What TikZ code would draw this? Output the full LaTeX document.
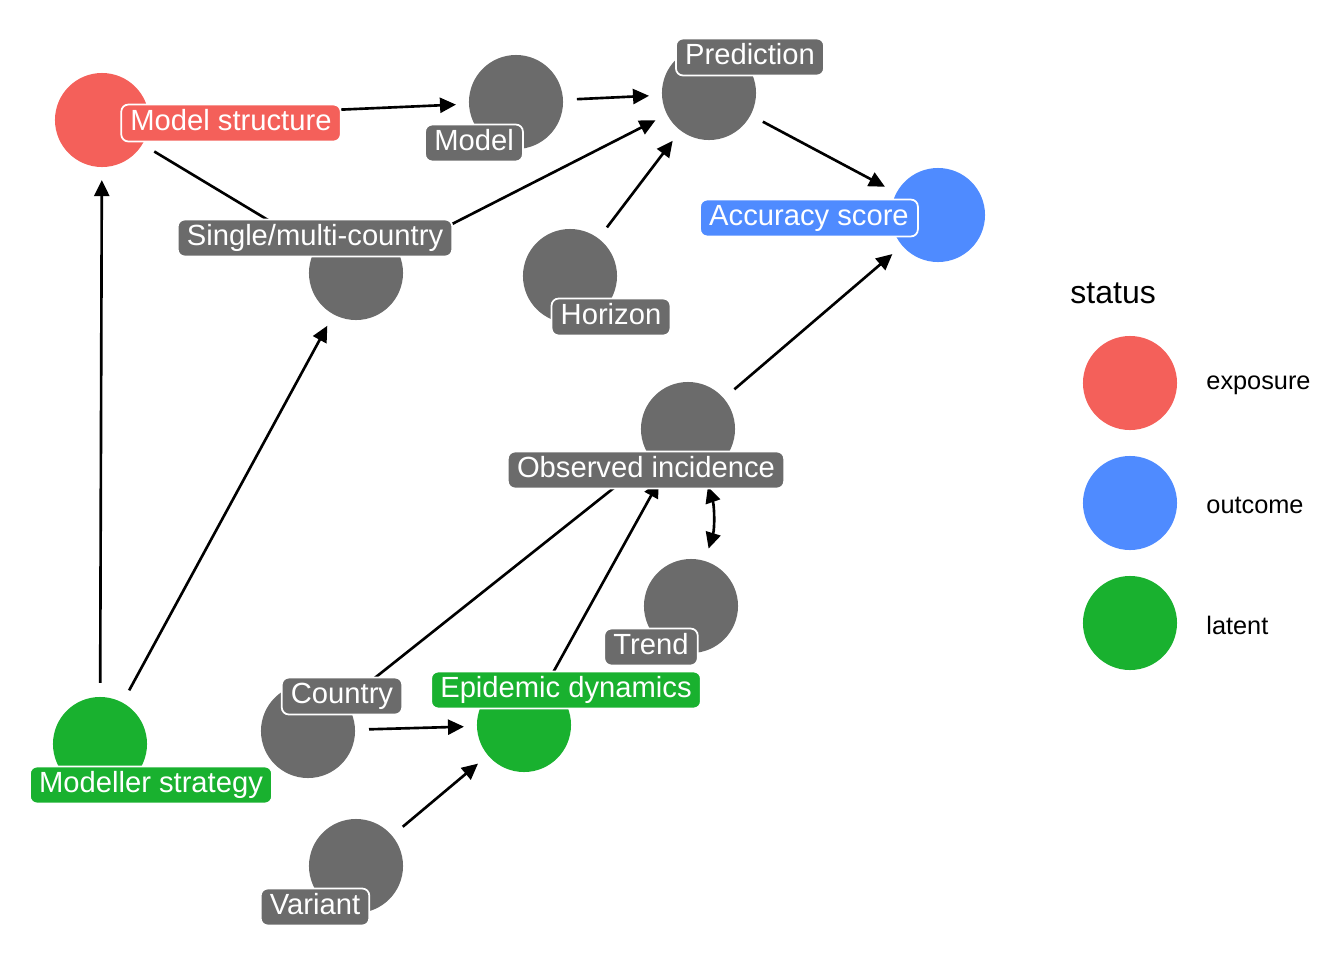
\documentclass[tikz,border=0pt]{standalone}
\usepackage{fontspec}
\setmainfont{Liberation Sans}
\usetikzlibrary{arrows.meta}
\definecolor{expo}{HTML}{F4605A}
\definecolor{outc}{HTML}{4F8BFF}
\definecolor{late}{HTML}{19B12F}
\definecolor{other}{HTML}{6B6B6B}
\tikzset{
  dagnode/.style={circle, fill=#1, minimum size=0.94cm, inner sep=0pt, outer sep=0pt},
  daglabel/.style={rounded corners=2pt, fill=#1, draw=white, line width=0.5pt,
    text=white, font=\fontsize{8.3}{10}\selectfont, text height=6pt, text depth=1.7pt,
    inner xsep=2.6pt, inner ysep=1.4pt},
  edge/.style={line width=0.75pt, -{Triangle[length=0.16cm,width=0.15cm]},
    shorten >=0.13cm, shorten <=0.14cm},
}
\begin{document}
\begin{tikzpicture}[x=0.01cm, y=-0.01cm]
    \useasboundingbox (0,0) rectangle (1344,960);

    \node[dagnode=expo] (structure) at (102,120) {};
    \node[dagnode=other] (model) at (516,102) {};
    \node[dagnode=other] (prediction) at (709,93) {};
    \node[dagnode=outc] (accuracy) at (938,215) {};
    \node[dagnode=other] (single) at (356,273) {};
    \node[dagnode=other] (horizon) at (570,276) {};
    \node[dagnode=other] (observed) at (688,429) {};
    \node[dagnode=other] (trend) at (691,606) {};
    \node[dagnode=late] (strategy) at (100,744) {};
    \node[dagnode=other] (country) at (308,731) {};
    \node[dagnode=late] (epidemic) at (524,725) {};
    \node[dagnode=other] (variant) at (356,866) {};

    \draw[edge] (structure) to (model);
    \draw[edge] (structure) to (single);
    \draw[edge] (model) to (prediction);
    \draw[edge] (prediction) to (accuracy);
    \draw[edge] (single) to (prediction);
    \draw[edge] (horizon) to (prediction);
    \draw[edge] (strategy) to (structure);
    \draw[edge] (strategy) to (single);
    \draw[edge] (country) to (epidemic);
    \draw[edge] (country) to (observed);
    \draw[edge] (epidemic) to (observed);
    \draw[edge] (variant) to (epidemic);
    \draw[edge] (observed) to (accuracy);
    \draw[edge, {Triangle[length=0.16cm,width=0.15cm]}-{Triangle[length=0.16cm,width=0.15cm]}]
      (observed) to[bend left=18] (trend);

    \node[daglabel=expo] (structureL) at (231,123) {Model structure};
    \node[daglabel=other] (modelL) at (474,143) {Model};
    \node[daglabel=other] (predictionL) at (750,57) {Prediction};
    \node[daglabel=outc] (accuracyL) at (809,218) {Accuracy score};
    \node[daglabel=other] (singleL) at (315,238) {Single/multi-country};
    \node[daglabel=other] (horizonL) at (611,317) {Horizon};
    \node[daglabel=other] (observedL) at (646,470) {Observed incidence};
    \node[daglabel=other] (trendL) at (651,647) {Trend};
    \node[daglabel=other] (countryL) at (342,696) {Country};
    \node[daglabel=late] (epidemicL) at (566,690) {Epidemic dynamics};
    \node[daglabel=late] (strategyL) at (151,785) {Modeller strategy};
    \node[daglabel=other] (variantL) at (315,907) {Variant};

    % legend
    \node[anchor=west, font=\fontsize{9.1}{11}\selectfont] (legtitle) at (1058,293) {status};
    \node[dagnode=expo] (legexpo) at (1130,383) {};
    \node[dagnode=outc] (legoutc) at (1130,503) {};
    \node[dagnode=late] (leglate) at (1130,623) {};
    \node[anchor=west, font=\fontsize{7.2}{9}\selectfont] at (1194,385) {exposure};
    \node[anchor=west, font=\fontsize{7.2}{9}\selectfont] at (1194,505) {outcome};
    \node[anchor=west, font=\fontsize{7.2}{9}\selectfont] at (1194,625) {latent};
\end{tikzpicture}
\end{document}
